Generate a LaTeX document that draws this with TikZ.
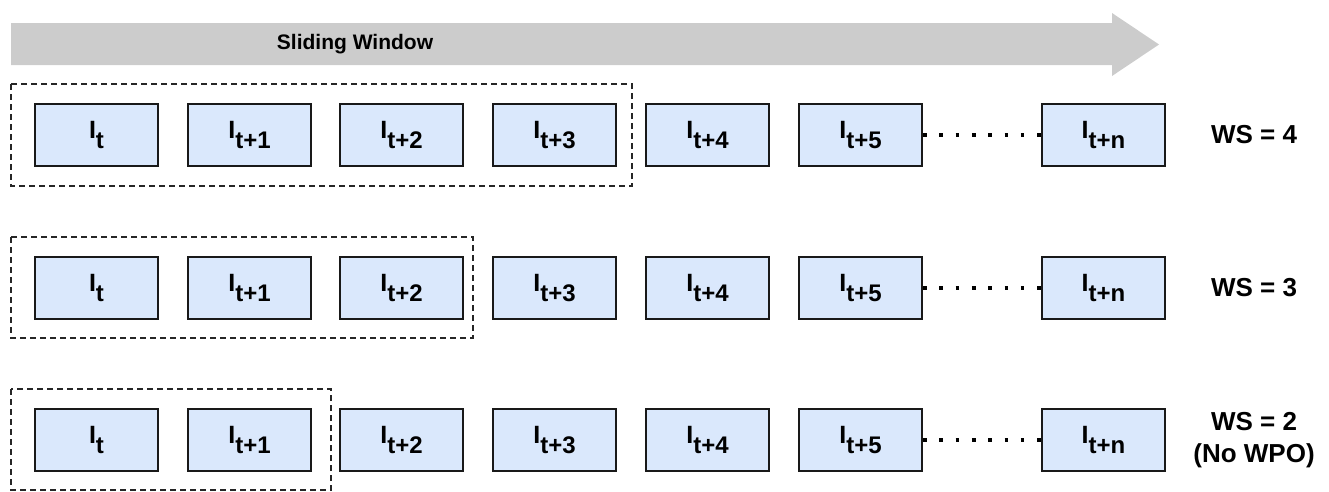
\documentclass[tikz,border=0pt]{standalone}
\usepackage{fontspec}
\setmainfont{Liberation Sans}
\newcommand\framelbl[1]{I\raisebox{-10pt}{\fontsize{24}{24}\selectfont #1}}
\begin{document}
\begin{tikzpicture}[x=1pt,y=-1pt,
  frame/.style={draw=black!90,line width=2pt,fill=framefill,
    minimum width=123pt,minimum height=62pt,inner sep=0pt,
    font=\bfseries\fontsize{25}{25}\selectfont},
  window/.style={draw=black!85,line width=2.2pt,dash pattern=on 6pt off 4pt},
  gap/.style={line width=3.6pt,dash pattern=on 3.6pt off 12.7pt},
  wslabel/.style={font=\bfseries\fontsize{26}{32}\selectfont,align=center}]
\definecolor{framefill}{HTML}{DAE8FC}
\definecolor{arrowgray}{HTML}{CCCCCC}
\useasboundingbox (0,0) rectangle (1329,491);

% direction of the sliding window
\fill[arrowgray] (11,23) -- (1112,23) -- (1112,13) -- (1159,44.5) -- (1112,76) -- (1112,65) -- (11,65) -- cycle;
\node[font=\bfseries\fontsize{21}{21}\selectfont] (title) at (355,44) {Sliding Window};

% three rows of frames
\foreach \r/\y in {a/135,b/288,c/440}{
  \node[frame] (\r0) at (96.5,\y)  {\framelbl{t}};
  \node[frame] (\r1) at (249.5,\y) {\framelbl{t+1}};
  \node[frame] (\r2) at (401.5,\y) {\framelbl{t+2}};
  \node[frame] (\r3) at (554.5,\y) {\framelbl{t+3}};
  \node[frame] (\r4) at (707.5,\y) {\framelbl{t+4}};
  \node[frame] (\r5) at (860.5,\y) {\framelbl{t+5}};
  \node[frame] (\r n) at (1103.5,\y) {\framelbl{t+n}};
  \draw[gap] (\r5.east) -- (\r n.west);
}

% window extents
\draw[window] (11,84) rectangle (632,186);
\draw[window] (11,237) rectangle (473,338);
\draw[window] (11,389) rectangle (331,490);

% window sizes
\node[wslabel] (wsa) at (1254,135) {WS = 4};
\node[wslabel] (wsb) at (1254,288) {WS = 3};
\node[wslabel] (wsc) at (1254,440) {WS = 2\\(No WPO)};
\end{tikzpicture}
\end{document}
